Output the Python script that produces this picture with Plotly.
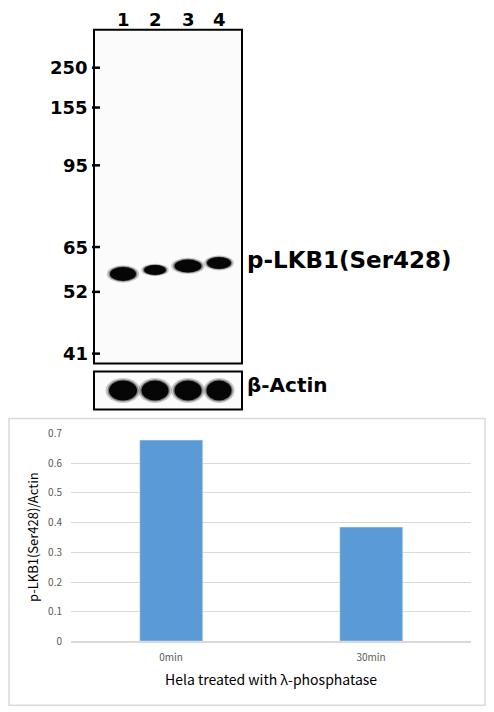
import plotly.graph_objects as go

# bar chart data
groups = ["0min", "30min"]
ratio = [0.675, 0.385]

# blot data (lane numbers, marker sizes in kDa)
lanes = ["1", "2", "3", "4"]
lane_x = [123, 155, 188, 219]
band_w = [26, 22, 27, 24]
band_y = [272, 268, 264, 261]
band_h = [14, 10, 13, 12]
actin_w = [28, 27, 27, 25]
markers = ["250", "155", "95", "65", "52", "41"]
marker_y = [65, 105, 163, 245, 290, 352]

W, H = 494, 712
# page offset / scale correction measured from the render
OX, OY, SY = 8, 14.1, 0.9826


def px(d):
    return (d - OX) / W


def py(d):
    return 1 - (d - OY) / (SY * H)


fig = go.Figure()
fig.add_trace(go.Bar(x=groups, y=ratio, marker_color="#5b9bd5", width=0.315,
                     xaxis="x", yaxis="y", showlegend=False))
fig.add_trace(go.Scatter(x=[0], y=[0], mode="markers", marker_opacity=0,
                         xaxis="x2", yaxis="y2", showlegend=False))

shapes = []
ann = []
# bar chart outer box
shapes.append(dict(type="rect", xref="x2", yref="y2", x0=9, x1=485, y0=417, y1=705,
                   line=dict(color="#d9d9d9", width=1.5)))
# blot frames
shapes.append(dict(type="rect", xref="x2", yref="y2", x0=94, x1=242, y0=27, y1=362,
                   line=dict(color="black", width=2), fillcolor="#fbfbfb", layer="below"))
shapes.append(dict(type="rect", xref="x2", yref="y2", x0=94, x1=242, y0=370, y1=408,
                   line=dict(color="black", width=2), fillcolor="#fbfbfb", layer="below"))
for i in range(len(lanes)):
    cx = lane_x[i]
    for k, op in [(1.25, 0.2), (1.1, 0.4), (1.0, 0.95)]:
        shapes.append(dict(type="circle", xref="x2", yref="y2",
                           x0=cx - band_w[i] / 2 * k, x1=cx + band_w[i] / 2 * k,
                           y0=band_y[i] - band_h[i] / 2 * k, y1=band_y[i] + band_h[i] / 2 * k,
                           fillcolor="black", opacity=op, line_width=0))
        shapes.append(dict(type="circle", xref="x2", yref="y2",
                           x0=cx - actin_w[i] / 2 * k, x1=cx + actin_w[i] / 2 * k,
                           y0=389 - 10 * k, y1=389 + 10 * k,
                           fillcolor="black", opacity=op, line_width=0))
    ann.append(dict(x=cx, y=17, xref="x2", yref="y2", text="<b>%s</b>" % lanes[i],
                    showarrow=False, font=dict(size=18, color="black", family="DejaVu Sans")))
for m, my in zip(markers, marker_y):
    shapes.append(dict(type="line", xref="x2", yref="y2", x0=92, x1=100, y0=my, y1=my,
                       line=dict(color="black", width=2.5)))
    ann.append(dict(x=90, y=my, xref="x2", yref="y2", text="<b>%s</b>" % m, xanchor="right",
                    showarrow=False, font=dict(size=18, color="black", family="DejaVu Sans")))
ann.append(dict(x=245, y=258, xref="x2", yref="y2", text="<b>p-LKB1(Ser428)</b>", xanchor="left",
                showarrow=False, font=dict(size=23, color="black", family="DejaVu Sans")))
ann.append(dict(x=245, y=383, xref="x2", yref="y2", text="<b>β-Actin</b>", xanchor="left",
                showarrow=False, font=dict(size=20, color="black", family="DejaVu Sans")))
ann.append(dict(x=271, y=679, xref="x2", yref="y2", text="Hela treated with λ-phosphatase",
                showarrow=False, font=dict(size=14, color="black", family="Noto Sans CJK SC")))
ann.append(dict(x=33, y=536, xref="x2", yref="y2", text="p-LKB1(Ser428)/Actin", textangle=-90,
                showarrow=False, font=dict(size=13, color="black", family="Noto Sans CJK SC")))

fig.update_layout(
    width=W, height=H, margin=dict(l=0, r=0, t=0, b=0),
    paper_bgcolor="white", plot_bgcolor="rgba(0,0,0,0)",
    bargap=0,
    xaxis=dict(domain=[px(71), px(471)], showgrid=False, ticks="",
               tickfont=dict(size=10, color="#595959", family="Noto Sans CJK SC"),
               showline=False, anchor="y", fixedrange=True, ticklabelstandoff=8),
    yaxis=dict(domain=[py(641), py(432)], range=[0, 0.7], dtick=0.1,
               gridcolor="#d9d9d9", zeroline=True, zerolinecolor="#d9d9d9",
               tickfont=dict(size=10, color="#595959", family="Noto Sans CJK SC"),
               tickformat="~g", anchor="x", ticklabelstandoff=8),
    xaxis2=dict(domain=[0, 1], range=[OX, W + OX], visible=False, anchor="y2"),
    yaxis2=dict(domain=[0, 1], range=[OY + SY * H, OY], visible=False, anchor="x2"),
    shapes=shapes, annotations=ann,
)

fig.write_html("out.html")
